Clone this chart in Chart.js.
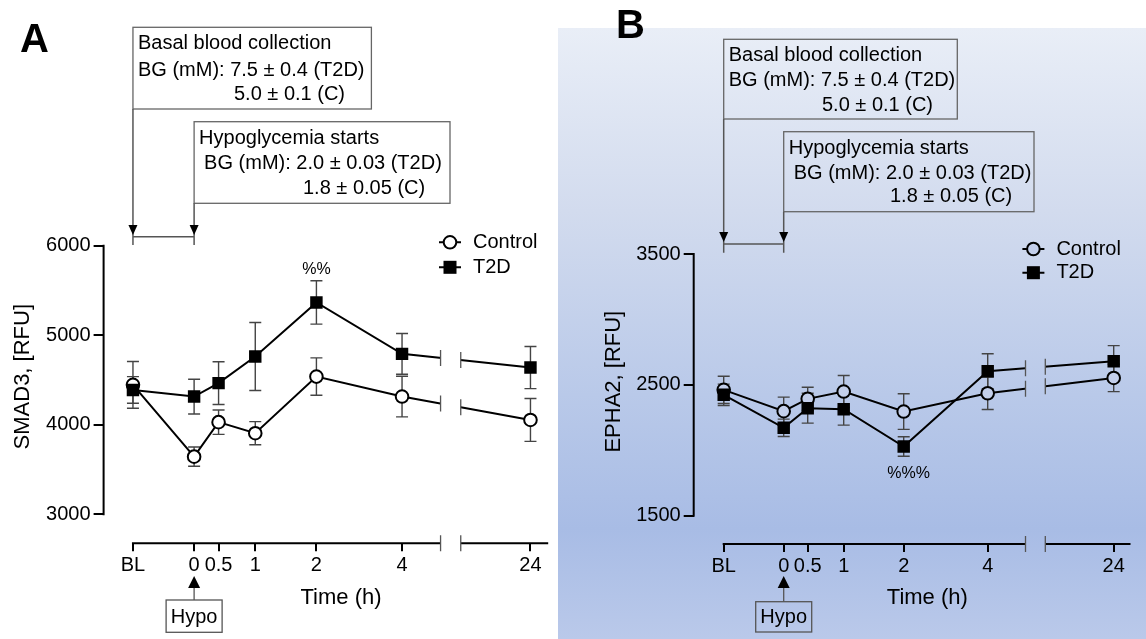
<!DOCTYPE html>
<html>
<head>
<meta charset="utf-8">
<script src="https://cdn.jsdelivr.net/npm/chart.js@4.4.1/dist/chart.umd.min.js"></script>
<style>
  body { margin: 0; background: #fff; }
  #wrap { position: relative; width: 1146px; height: 639px; overflow: hidden; }
  #bgB {
    position: absolute; left: 558px; top: 28px; width: 588px; height: 611px;
    background: linear-gradient(to bottom, #e9eef7 0%, #d2dbee 30%, #b9c9e9 60%, #a8bce5 82%, #bac9ea 100%);
  }
  canvas { position: absolute; top: 0; }
  #chartA { left: 0; }
  #chartB { left: 558px; }
</style>
</head>
<body>
<div id="wrap">
  <div id="bgB"></div>
  <canvas id="chartA" width="558" height="639"></canvas>
  <canvas id="chartB" width="588" height="639"></canvas>
</div>
<script>
const FONT = '"Liberation Sans", Arial, sans-serif';

// Time points and where each one sits on the segmented x axis
const timeLabels = ['BL', '0', '0.5', '1', '2', '4', '24'];
const timePos = [-1, 0, 0.4, 1, 2, 3.4, 5.5];
const axisBreak = [4.03, 4.36];

// Panel A - SMAD3 (mean and SEM)
const smadControl = [4446, 3644, 4029, 3906, 4538, 4315, 4054];
const smadControlErr = [261, 108, 136, 129, 209, 227, 240];
const smadT2D = [4389, 4315, 4465, 4762, 5366, 4792, 4639];
const smadT2DErr = [149, 194, 238, 380, 242, 227, 235];
const smadTicks = [3000, 4000, 5000, 6000];

// Panel B - EPHA2 (mean and SEM)
const ephaControl = [2462, 2299, 2393, 2449, 2296, 2436, 2553];
const ephaControlErr = [104, 107, 89, 122, 136, 124, 105];
const ephaT2D = [2424, 2172, 2322, 2314, 2029, 2604, 2680];
const ephaT2DErr = [82, 66, 114, 122, 75, 134, 120];
const ephaTicks = [1500, 2500, 3500];

// Annotation texts
const basalLines = ['Basal blood collection', 'BG (mM): 7.5 \u00b1 0.4 (T2D)', '5.0 \u00b1 0.1 (C)'];
const hypoLines = ['Hypoglycemia starts', 'BG (mM): 2.0 \u00b1 0.03 (T2D)', '1.8 \u00b1 0.05 (C)'];

function arrowDown(ctx, x, tipY, h, w) {
    ctx.beginPath();
    ctx.moveTo(x, tipY);
    ctx.lineTo(x - w, tipY - h);
    ctx.lineTo(x + w, tipY - h);
    ctx.closePath();
    ctx.fill();
}

function arrowUp(ctx, x, tipY, h, w) {
    ctx.beginPath();
    ctx.moveTo(x, tipY);
    ctx.lineTo(x - w, tipY + h);
    ctx.lineTo(x + w, tipY + h);
    ctx.closePath();
    ctx.fill();
}

function makePanel(canvasId, p) {
    const extras = {
        id: 'extras' + p.letter,
        beforeDatasetsDraw(chart) {
            const { ctx, chartArea: a, scales: { x, y } } = chart;
            const xb0 = x.getPixelForValue(axisBreak[0]);
            const xb1 = x.getPixelForValue(axisBreak[1]);

            // axis lines (GraphPad style, detached)
            ctx.save();
            ctx.strokeStyle = '#000';
            ctx.lineWidth = 2;
            ctx.beginPath();
            ctx.moveTo(a.left, y.getPixelForValue(p.yTicks[p.yTicks.length - 1]) - 1);
            ctx.lineTo(a.left, y.getPixelForValue(p.yTicks[0]) + 1);
            ctx.moveTo(x.getPixelForValue(timePos[0]) - 1, a.bottom);
            ctx.lineTo(xb0, a.bottom);
            ctx.moveTo(xb1, a.bottom);
            ctx.lineTo(a.right, a.bottom);
            ctx.stroke();

            ctx.strokeStyle = '#555';
            ctx.lineWidth = 1.3;
            ctx.beginPath();
            [xb0, xb1].forEach(xb => {
                ctx.moveTo(xb, a.bottom - 8);
                ctx.lineTo(xb, a.bottom + 8);
            });
            ctx.stroke();

            // error bars
            ctx.strokeStyle = '#444';
            ctx.lineWidth = 1.4;
            [[p.control, p.controlErr], [p.t2d, p.t2dErr]].forEach(([vals, errs]) => {
                vals.forEach((v, i) => {
                    const px = x.getPixelForValue(timePos[i]);
                    const hi = y.getPixelForValue(v + errs[i]);
                    const lo = y.getPixelForValue(v - errs[i]);
                    ctx.beginPath();
                    ctx.moveTo(px, hi); ctx.lineTo(px, lo);
                    ctx.moveTo(px - 6, hi); ctx.lineTo(px + 6, hi);
                    ctx.moveTo(px - 6, lo); ctx.lineTo(px + 6, lo);
                    ctx.stroke();
                });
            });
            ctx.restore();

            // hide the connecting lines inside the axis break
            ctx.save();
            ctx.beginPath();
            ctx.rect(0, 0, xb0, chart.height);
            ctx.rect(xb1, 0, chart.width - xb1, chart.height);
            ctx.clip();
        },
        afterDatasetsDraw(chart) {
            const { ctx, scales: { x, y } } = chart;
            ctx.restore();
            const xb0 = x.getPixelForValue(axisBreak[0]);
            const xb1 = x.getPixelForValue(axisBreak[1]);
            const x4 = x.getPixelForValue(timePos[5]);
            const x24 = x.getPixelForValue(timePos[6]);
            ctx.save();
            ctx.strokeStyle = '#555';
            ctx.lineWidth = 1.3;
            ctx.beginPath();
            [p.control, p.t2d].forEach(vals => {
                const y4 = y.getPixelForValue(vals[5]);
                const y24 = y.getPixelForValue(vals[6]);
                [xb0, xb1].forEach(xb => {
                    const yy = y4 + (y24 - y4) * (xb - x4) / (x24 - x4);
                    ctx.moveTo(xb, yy - 8);
                    ctx.lineTo(xb, yy + 8);
                });
            });
            ctx.stroke();
            ctx.restore();
        },
        afterDraw(chart) {
            const { ctx, scales: { x } } = chart;
            const xBL = x.getPixelForValue(timePos[0]);
            const x0 = x.getPixelForValue(timePos[1]);
            ctx.save();

            // panel letter
            ctx.fillStyle = '#000';
            ctx.font = 'bold 40px ' + FONT;
            ctx.textBaseline = 'alphabetic';
            ctx.textAlign = 'left';
            ctx.fillText(p.letter, p.letterPos[0], p.letterPos[1]);

            // annotation boxes
            ctx.strokeStyle = '#666';
            ctx.lineWidth = 1.3;
            const b1 = p.box1, b2 = p.box2;
            ctx.strokeRect(xBL, b1.top, b1.right - xBL, b1.bottom - b1.top);
            ctx.strokeRect(x0, b2.top, b2.right - x0, b2.bottom - b2.top);

            ctx.font = '20px ' + FONT;
            ctx.textBaseline = 'middle';
            ctx.fillText(basalLines[0], xBL + 5, b1.lines[0]);
            ctx.fillText(basalLines[1], xBL + 5, b1.lines[1]);
            ctx.fillText(basalLines[2], b1.x3, b1.lines[2]);
            ctx.fillText(hypoLines[0], x0 + 5, b2.lines[0]);
            ctx.fillText(hypoLines[1], x0 + 10, b2.lines[1]);
            ctx.fillText(hypoLines[2], b2.x3, b2.lines[2]);

            // bracket with arrows down to BL and 0
            ctx.strokeStyle = '#555';
            ctx.lineWidth = 1.5;
            ctx.beginPath();
            ctx.moveTo(xBL, b1.bottom); ctx.lineTo(xBL, p.bracket.tickBottom);
            ctx.moveTo(x0, b2.bottom); ctx.lineTo(x0, p.bracket.tickBottom);
            ctx.moveTo(xBL, p.bracket.y); ctx.lineTo(x0, p.bracket.y);
            ctx.stroke();
            ctx.fillStyle = '#000';
            arrowDown(ctx, xBL, p.bracket.tip, 10, 4.5);
            arrowDown(ctx, x0, p.bracket.tip, 10, 4.5);

            // legend
            ctx.strokeStyle = '#000';
            ctx.lineWidth = 2;
            const [lx, ly1, ly2] = p.legend;
            ctx.beginPath();
            ctx.moveTo(lx - 11, ly1); ctx.lineTo(lx + 11, ly1);
            ctx.moveTo(lx - 11, ly2); ctx.lineTo(lx + 11, ly2);
            ctx.stroke();
            ctx.beginPath();
            ctx.arc(lx, ly1, 6.3, 0, Math.PI * 2);
            ctx.fillStyle = p.circleFill;
            ctx.fill();
            ctx.stroke();
            ctx.fillStyle = '#000';
            ctx.fillRect(lx - 6.5, ly2 - 6.5, 13, 13);
            ctx.font = '20px ' + FONT;
            ctx.fillText('Control', lx + 23, ly1);
            ctx.fillText('T2D', lx + 23, ly2);

            // significance marker
            ctx.font = '16px ' + FONT;
            ctx.textAlign = 'center';
            ctx.fillText(p.pct.text, p.pct.x, p.pct.y);

            // axis titles
            ctx.font = '22px ' + FONT;
            ctx.fillText('Time (h)', p.xTitle[0], p.xTitle[1]);
            ctx.save();
            ctx.translate(p.yTitle[0], p.yTitle[1]);
            ctx.rotate(-Math.PI / 2);
            ctx.fillText(p.yLabel, 0, 0);
            ctx.restore();

            // Hypo marker under the 0 tick
            const h = p.hypo;
            ctx.strokeStyle = '#555';
            ctx.lineWidth = 1.3;
            ctx.beginPath();
            ctx.moveTo(x0, h.tip + 10);
            ctx.lineTo(x0, h.top);
            ctx.stroke();
            arrowUp(ctx, x0, h.tip, 12, 6);
            ctx.strokeRect(x0 - 28, h.top, 56, h.bottom - h.top);
            ctx.font = '20px ' + FONT;
            ctx.fillText('Hypo', x0, (h.top + h.bottom) / 2 + 1);

            ctx.restore();
        }
    };

    const tickFont = { family: FONT, size: 20 };

    return new Chart(document.getElementById(canvasId), {
        type: 'line',
        data: {
            datasets: [
                {
                    label: 'Control',
                    data: p.control.map((v, i) => ({ x: timePos[i], y: v })),
                    borderColor: '#000',
                    borderWidth: 2,
                    pointStyle: 'circle',
                    pointRadius: 6.3,
                    pointBorderWidth: 2,
                    pointBorderColor: '#000',
                    pointBackgroundColor: p.circleFill,
                    tension: 0,
                    order: 1
                },
                {
                    label: 'T2D',
                    data: p.t2d.map((v, i) => ({ x: timePos[i], y: v })),
                    borderColor: '#000',
                    borderWidth: 2,
                    pointStyle: 'rect',
                    pointRadius: 8.8,
                    pointBorderWidth: 0,
                    pointBackgroundColor: '#000',
                    tension: 0,
                    order: 0
                }
            ]
        },
        options: {
            responsive: false,
            animation: false,
            events: [],
            layout: { padding: p.padding },
            plugins: {
                legend: { display: false },
                tooltip: { enabled: false }
            },
            scales: {
                x: {
                    type: 'linear',
                    min: p.xRange[0],
                    max: p.xRange[1],
                    afterBuildTicks: s => { s.ticks = timePos.map(v => ({ value: v })); },
                    afterFit: s => { s.height = 60; },
                    ticks: {
                        autoSkip: false,
                        maxRotation: 0,
                        padding: 2,
                        color: '#000',
                        font: tickFont,
                        callback: (v, i) => timeLabels[i]
                    },
                    grid: { drawOnChartArea: false, drawTicks: true, tickLength: 8, color: '#000', lineWidth: 2 },
                    border: { display: false }
                },
                y: {
                    min: p.yRange[0],
                    max: p.yRange[1],
                    afterBuildTicks: s => { s.ticks = p.yTicks.map(v => ({ value: v })); },
                    afterFit: s => { s.width = 60; },
                    ticks: {
                        padding: 3,
                        color: '#000',
                        font: tickFont,
                        callback: v => String(v)
                    },
                    grid: { drawOnChartArea: false, drawTicks: true, tickLength: 10, color: '#000', lineWidth: 2 },
                    border: { display: false }
                }
            }
        },
        plugins: [extras]
    });
}

document.addEventListener('DOMContentLoaded', function () {
    makePanel('chartA', {
        letter: 'A',
        control: smadControl, controlErr: smadControlErr,
        t2d: smadT2D, t2dErr: smadT2DErr,
        yTicks: smadTicks,
        yLabel: 'SMAD3, [RFU]',
        xRange: [-1.48, 5.79],
        yRange: [2676, 6000],
        padding: { left: 43.6, right: 9.8, top: 245.7, bottom: 35.7 },
        circleFill: '#ffffff',
        letterPos: [20, 52],
        box1: { top: 27.3, bottom: 109, right: 371.4, lines: [43.3, 70, 94.3], x3: 234 },
        box2: { top: 121.7, bottom: 203.3, right: 450, lines: [138.3, 163.3, 188.3], x3: 303 },
        bracket: { y: 236.7, tip: 235, tickBottom: 245 },
        legend: [450, 242.3, 267.3],
        pct: { text: '%%', x: 316.4, y: 269.3 },
        xTitle: [341, 598.3],
        yTitle: [23, 376.7],
        hypo: { tip: 576, top: 600, bottom: 632.3 }
    });

    makePanel('chartB', {
        letter: 'B',
        control: ephaControl, controlErr: ephaControlErr,
        t2d: ephaT2D, t2dErr: ephaT2DErr,
        yTicks: ephaTicks,
        yLabel: 'EPHA2, [RFU]',
        xRange: [-1.5, 5.78],
        yRange: [1284, 3500],
        padding: { left: 75.7, right: 15.5, top: 254, bottom: 35 },
        circleFill: '#c3cfeb',
        letterPos: [58, 38],
        box1: { top: 39.3, bottom: 119, right: 399.3, lines: [55, 80.7, 105], x3: 264 },
        box2: { top: 131.7, bottom: 211.7, right: 476, lines: [148.3, 173.3, 196.7], x3: 332 },
        bracket: { y: 244, tip: 242, tickBottom: 252.7 },
        legend: [475.4, 249, 272.7],
        pct: { text: '%%%', x: 350.6, y: 474 },
        xTitle: [369.3, 598.3],
        yTitle: [56, 381.7],
        hypo: { tip: 576, top: 601.7, bottom: 632 }
    });
});
</script>
</body>
</html>
